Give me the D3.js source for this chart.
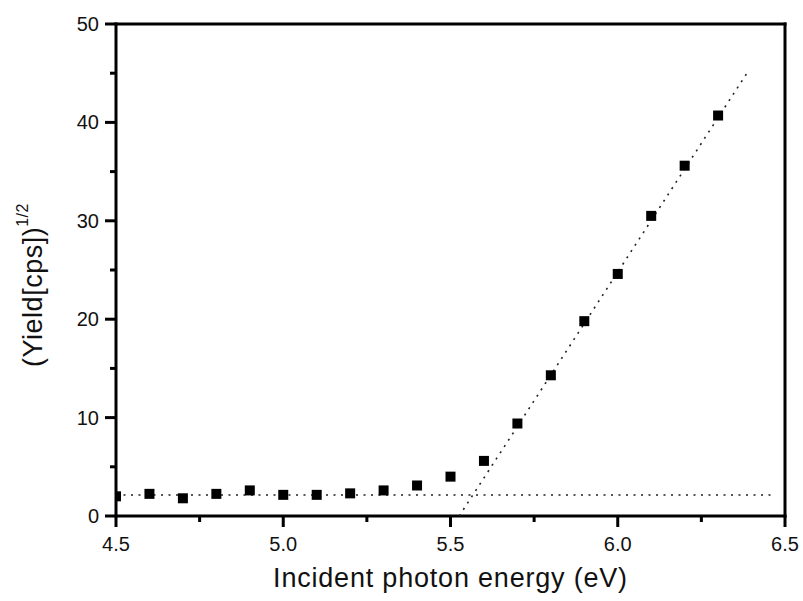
<!DOCTYPE html>
<html>
<head>
<meta charset="utf-8">
<script src="https://cdn.jsdelivr.net/npm/d3@7"></script>
<style>
    body { margin: 0; background: #fff; overflow: hidden; }
    svg { display: block; }
</style>
</head>
<body>
<script>
// measured points
var energy = [4.5, 4.6, 4.7, 4.8, 4.9, 5.0, 5.1, 5.2, 5.3, 5.4, 5.5, 5.6, 5.7, 5.8, 5.9, 6.0, 6.1, 6.2, 6.3];
var yieldRoot = [2.0, 2.25, 1.8, 2.25, 2.6, 2.15, 2.15, 2.3, 2.6, 3.1, 4.0, 5.6, 9.4, 14.3, 19.8, 24.6, 30.5, 35.6, 40.7];

// fitted lines (dotted)
var baseX = [4.5, 6.47];
var baseY = [2.13, 2.13];
var fitX = [5.526, 6.39];
var fitY = [0, 45.2];

var xTicks = [4.5, 5.0, 5.5, 6.0, 6.5];
var yTicks = [0, 10, 20, 30, 40, 50];
var xMinor = [4.75, 5.25, 5.75, 6.25];
var yMinor = [5, 15, 25, 35, 45];

const W = 803, H = 601;
const m = { left: 116, top: 24, right: 18, bottom: 85 };
const width = W - m.left - m.right;
const height = H - m.top - m.bottom;

var svg = d3.select('body')
    .append('svg')
    .attr('width', W)
    .attr('height', H);

var x = d3.scaleLinear().domain([4.5, 6.5]).range([m.left, m.left + width]);
var y = d3.scaleLinear().domain([0, 50]).range([m.top + height, m.top]);
var x0 = x.range()[0], yb = y.range()[0];

// frame
var frame = [
    [x0 - 1.5, m.top - 1.5, width + 3, 3],
    [x0 - 1.5, yb - 1.5, width + 3, 3],
    [x0 - 1.5, m.top - 1.5, 3, height + 3],
    [x0 + width - 1.5, m.top - 1.5, 3, height + 3]
];
svg.selectAll('.frame')
    .data(frame)
    .enter()
    .append('rect')
    .attr('class', 'frame')
    .attr('x', d => d[0])
    .attr('y', d => d[1])
    .attr('width', d => d[2])
    .attr('height', d => d[3])
    .attr('fill', '#000');

// ticks
function tickRects(cls, vals, len, horiz) {
    svg.selectAll('.' + cls)
        .data(vals)
        .enter()
        .append('rect')
        .attr('class', cls)
        .attr('x', d => horiz ? x(d) - 1.5 : x0 - len)
        .attr('y', d => horiz ? yb : y(d) - 1.5)
        .attr('width', horiz ? 3 : len)
        .attr('height', horiz ? len : 3)
        .attr('fill', '#000');
}
tickRects('xmaj', xTicks, 11, true);
tickRects('xmin', xMinor, 6, true);
tickRects('ymaj', yTicks, 11, false);
tickRects('ymin', yMinor, 6, false);

var line = d3.line()
    .x(d => x(d[0]))
    .y(d => y(d[1]));

var xlo = x(4.5), xhi = x(6.5);

[[baseX, baseY], [fitX, fitY]].forEach(function(l) {
    svg.append('path')
        .datum(d3.zip(l[0], l[1]))
        .attr('d', line)
        .attr('fill', 'none')
        .attr('stroke', '#222')
        .attr('stroke-width', 1.6)
        .attr('stroke-dasharray', '2,5.5');
});

svg.selectAll('.pt')
    .data(d3.zip(energy, yieldRoot))
    .enter()
    .append('rect')
    .attr('class', 'pt')
    .attr('x', d => Math.max(x(d[0]) - 5, xlo))
    .attr('y', d => y(d[1]) - 5)
    .attr('width', d => Math.min(x(d[0]) + 5, xhi) - Math.max(x(d[0]) - 5, xlo))
    .attr('height', 10)
    .attr('fill', '#000');

// tick labels
svg.selectAll('.xlab')
    .data(xTicks)
    .enter()
    .append('text')
    .attr('class', 'xlab')
    .attr('x', d => x(d))
    .attr('y', yb + 35)
    .attr('text-anchor', 'middle')
    .attr('font-family', "'Liberation Sans', Arial, sans-serif")
    .attr('font-size', '20px')
    .attr('fill', '#111')
    .text(d => d.toFixed(1));

svg.selectAll('.ylab')
    .data(yTicks)
    .enter()
    .append('text')
    .attr('class', 'ylab')
    .attr('x', x0 - 17)
    .attr('y', d => y(d))
    .attr('dy', '0.35em')
    .attr('text-anchor', 'end')
    .attr('font-family', "'Liberation Sans', Arial, sans-serif")
    .attr('font-size', '20px')
    .attr('fill', '#111')
    .text(d => d);

svg.append('text')
    .attr('x', m.left + width / 2)
    .attr('y', 587)
    .attr('text-anchor', 'middle')
    .attr('font-family', "'Liberation Sans', Arial, sans-serif")
    .attr('font-size', '27px')
    .attr('letter-spacing', '0.8px')
    .attr('fill', '#111')
    .text('Incident photon energy (eV)');

var yl = svg.append('text')
    .attr('transform', 'translate(42, 285) rotate(-90)')
    .attr('text-anchor', 'middle')
    .attr('font-family', "'Liberation Sans', Arial, sans-serif")
    .attr('font-size', '27px')
    .attr('letter-spacing', '0.5px')
    .attr('fill', '#111');

yl.append('tspan').text('(Yield[cps])');
yl.append('tspan')
    .attr('font-size', '16px')
    .attr('dy', -14)
    .text('1/2');
</script>
</body>
</html>
